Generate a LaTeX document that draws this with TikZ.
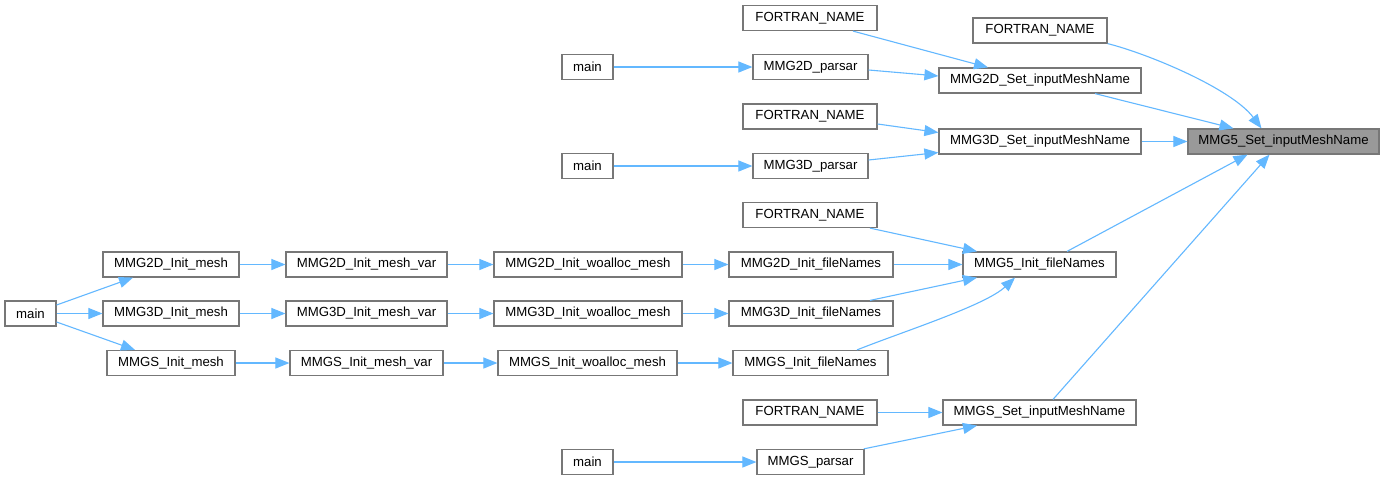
\documentclass[tikz,border=0pt]{standalone}
\usepackage{fontspec}
\setmainfont{Liberation Sans}
\usetikzlibrary{arrows.meta}
\definecolor{edgeblue}{HTML}{63B8FF}
\definecolor{boxborder}{HTML}{777777}
\definecolor{rootfill}{HTML}{999999}
\tikzset{
  box/.style={draw=boxborder, line width=1.2pt, fill=white, rectangle, minimum height=25pt, inner sep=0pt, font=\fontsize{13.2}{15}\selectfont, text=black},
  rootbox/.style={box, fill=rootfill},
  edge/.style={draw=edgeblue, line width=1.1pt, -{Triangle[length=14pt, width=11pt]}}
}
\begin{document}
\begin{tikzpicture}[x=1pt,y=-1pt]
\useasboundingbox[fill=white] (0,0) rectangle (1384,480);
% column 5 (root)
\node[rootbox, minimum width=191pt] (root) at (1283.5,141.5) {MMG5\_Set\_inputMeshName};
% column 4
\node[box, minimum width=134pt] (fnA) at (1040,30.5) {FORTRAN\_NAME};
\node[box, minimum width=202pt] (set2d) at (1040,80.5) {MMG2D\_Set\_inputMeshName};
\node[box, minimum width=202pt] (set3d) at (1040,141.5) {MMG3D\_Set\_inputMeshName};
\node[box, minimum width=153pt] (init5) at (1039.5,264.5) {MMG5\_Init\_fileNames};
\node[box, minimum width=193pt] (setS) at (1039.5,412.5) {MMGS\_Set\_inputMeshName};
% column 3
\node[box, minimum width=134pt] (fn1) at (810,18) {FORTRAN\_NAME};
\node[box, minimum width=115pt] (parsar2d) at (810.5,67) {MMG2D\_parsar};
\node[box, minimum width=134pt] (fn2) at (810,116.5) {FORTRAN\_NAME};
\node[box, minimum width=115pt] (parsar3d) at (810.5,166) {MMG3D\_parsar};
\node[box, minimum width=134pt] (fn3) at (810,215) {FORTRAN\_NAME};
\node[box, minimum width=164pt] (fn2d) at (811,264.5) {MMG2D\_Init\_fileNames};
\node[box, minimum width=164pt] (fn3d) at (811,313.5) {MMG3D\_Init\_fileNames};
\node[box, minimum width=155pt] (fnS) at (810.5,363) {MMGS\_Init\_fileNames};
\node[box, minimum width=134pt] (fn4) at (810,412.5) {FORTRAN\_NAME};
\node[box, minimum width=107pt] (parsarS) at (810.5,462) {MMGS\_parsar};
% column 2
\node[box, minimum width=51pt] (main1) at (587.5,67) {main};
\node[box, minimum width=51pt] (main2) at (587.5,166) {main};
\node[box, minimum width=188pt] (wo2d) at (588,264.5) {MMG2D\_Init\_woalloc\_mesh};
\node[box, minimum width=188pt] (wo3d) at (588,313.5) {MMG3D\_Init\_woalloc\_mesh};
\node[box, minimum width=179pt] (woS) at (587.5,363) {MMGS\_Init\_woalloc\_mesh};
\node[box, minimum width=51pt] (main3) at (587.5,462) {main};
% column 1
\node[box, minimum width=161pt] (mv2d) at (366.5,264.5) {MMG2D\_Init\_mesh\_var};
\node[box, minimum width=161pt] (mv3d) at (366.5,313.5) {MMG3D\_Init\_mesh\_var};
\node[box, minimum width=153pt] (mvS) at (366.5,363) {MMGS\_Init\_mesh\_var};
% column 0
\node[box, minimum width=136pt] (im2d) at (171,264.5) {MMG2D\_Init\_mesh};
\node[box, minimum width=136pt] (im3d) at (171,313.5) {MMG3D\_Init\_mesh};
\node[box, minimum width=128pt] (imS) at (171,363) {MMGS\_Init\_mesh};
\node[box, minimum width=51pt] (main0) at (30.5,313.5) {main};

% edges into root
\draw[edge] (fnA.south east) .. controls +(40,10) and +(-30,-40) .. ([xshift=-22pt]root.north);
\draw[edge] ([xshift=55pt]set2d.south) -- ([xshift=-50pt]root.north);
\draw[edge] (set3d.east) -- (root.west);
\draw[edge] ([xshift=27.5pt]init5.north) -- ([xshift=-36pt]root.south);
\draw[edge] ([xshift=13.5pt]setS.north) -- ([xshift=-14pt]root.south);
% into set2d
\draw[edge] ([xshift=43pt]fn1.south) -- ([xshift=-52pt]set2d.north);
\draw[edge] ([yshift=-3pt]parsar2d.east) -- ([yshift=4.5pt]set2d.west);
\draw[edge] (main1.east) -- (parsar2d.west);
% into set3d
\draw[edge] ([yshift=-7.5pt]fn2.east) -- ([yshift=9pt]set3d.west);
\draw[edge] ([yshift=6pt]parsar3d.east) -- ([yshift=-11pt]set3d.west);
\draw[edge] (main2.east) -- (parsar3d.west);
% into init5
\draw[edge] ([xshift=60pt]fn3.south) -- ([xshift=-62.5pt]init5.north);
\draw[edge] (fn2d.east) -- (init5.west);
\draw[edge] ([xshift=59pt]fn3d.north) -- ([xshift=-62.5pt]init5.south);
\draw[edge] ([xshift=46.5pt]fnS.north) .. controls +(45,-18) and +(-30,28) .. ([xshift=-24.5pt]init5.south);
% chains
\draw[edge] (wo2d.east) -- (fn2d.west);
\draw[edge] (wo3d.east) -- (fn3d.west);
\draw[edge] (woS.east) -- (fnS.west);
\draw[edge] (mv2d.east) -- (wo2d.west);
\draw[edge] (mv3d.east) -- (wo3d.west);
\draw[edge] (mvS.east) -- (woS.west);
\draw[edge] (im2d.east) -- (mv2d.west);
\draw[edge] (im3d.east) -- (mv3d.west);
\draw[edge] (imS.east) -- (mvS.west);
\draw[edge] ([yshift=8.5pt]main0.east) -- ([xshift=-38pt]im2d.south);
\draw[edge] (main0.east) -- (im3d.west);
\draw[edge] ([yshift=-8.5pt]main0.east) -- ([xshift=-36pt]imS.north);
% into setS
\draw[edge] (fn4.east) -- (setS.west);
\draw[edge] ([xshift=-1pt]parsarS.north east) -- ([xshift=-62.5pt]setS.south);
\draw[edge] (main3.east) -- (parsarS.west);
\end{tikzpicture}
\end{document}
